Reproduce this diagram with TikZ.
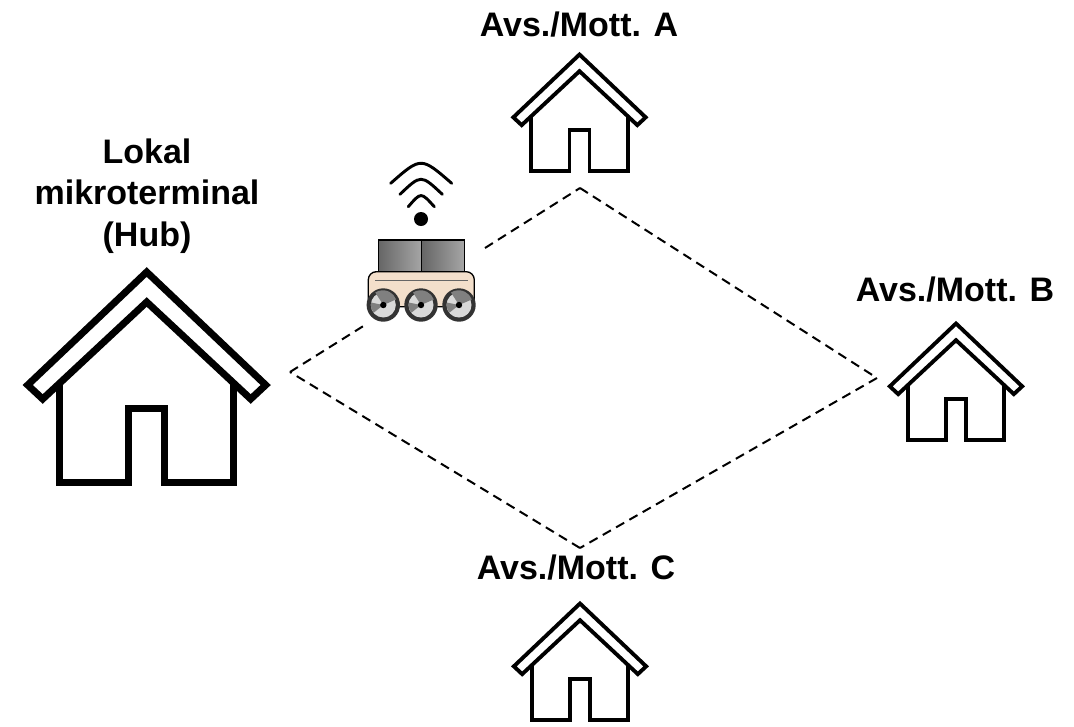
\documentclass[tikz,border=0pt]{standalone}
\usepackage{fontspec}
\setmainfont{Liberation Sans}
\begin{document}
\tikzset{
  place/.style={font=\bfseries\fontsize{25.5}{31}\selectfont, align=center},
  link/.style={densely dashed, line width=1.5pt, dash pattern=on 7pt off 4.5pt},
  pics/house/.style={code={
    \draw[miter limit=10] (-27,19) -- (0,0) ++(0,0);
  }},
  pics/home/.style={code={
    \draw[miter limit=10] (0,0) -- (119,113) -- (104,127) -- (0,30) -- (-104,127) -- (-119,113) -- cycle;
    \draw[miter limit=10] (-87,110) -- (-87,210) -- (-18,210) -- (-18,136) -- (18,136) -- (18,210) -- (87,210) -- (87,110);
  }},
  wheel/.pic={
    \fill[black!80] (0,0) circle [radius=16.7];
    \fill[black!15] (0,0) circle [radius=12.5];
    \fill[black!50] (0,0) -- (-8,-12.5) arc (237:340:14) -- cycle;
    \fill[black!50] (0,0) -- (-12.2,-2.5) arc (190:140:12.4) -- cycle;
    \fill[black] (0,0) circle [radius=3.2];
  }
}
\begin{tikzpicture}[x=0.75pt, y=-0.75pt]
  \useasboundingbox (0,0) rectangle (1074,726);
  % houses
  \pic[line width=5.25pt] at (146.7,272) {home};
  \pic[scale=0.556, line width=2.9pt] at (579.5,54.5) {home};
  \pic[scale=0.556, line width=2.9pt] at (956,323.5) {home};
  \pic[scale=0.556, line width=2.9pt] at (580,603.5) {home};
  % labels
  \node[place] (lblhub) at (147,196) {Lokal\\mikroterminal\\(Hub)};
  \node[place] (lbla) at (579,25) {Avs./Mott. A};
  \node[place] (lblb) at (955,290) {Avs./Mott. B};
  \node[place] (lblc) at (576,568) {Avs./Mott. C};
  % links
  \coordinate (hub) at (290,372);
  \coordinate (stopa) at (580,188);
  \coordinate (stopb) at (877,378);
  \coordinate (stopc) at (580,548);
  \coordinate (gapl) at (365,325);
  \coordinate (gapr) at (485,248);
  \draw[link] (hub) -- (gapl);
  \draw[link] (gapr) -- (stopa);
  \draw[link] (stopa) -- (stopb);
  \draw[link] (stopb) -- (stopc);
  \draw[link] (stopc) -- (hub);
  % signal
  \fill (421,219) circle [radius=7];
  \draw[line width=2.2pt, line cap=round] (390.7,183.3) .. controls (421,156.6) .. (451.7,183.3);
  \draw[line width=2.2pt, line cap=round] (400,194.3) .. controls (421,174.3) .. (442.3,194.3);
  \draw[line width=2.2pt, line cap=round] (408.3,206.7) .. controls (421,191.9) .. (434.3,206.7);
  % robot
  \draw[left color=black!60, right color=black!35, line width=1pt] (378.3,240) rectangle (421.7,272.3);
  \draw[left color=black!60, right color=black!35, line width=1pt] (421.7,240) rectangle (464.3,272.3);
  \draw[fill=orange!25!brown!25!white, line width=1pt, rounded corners=6pt] (368.3,271.7) rectangle (474.3,306.7);
  \draw[line width=0.5pt, black!60] (375,280) -- (468,280);
  \foreach \wx in {383.3,421,459} {
    \pic at (\wx,305) {wheel};
  }
\end{tikzpicture}
\end{document}
